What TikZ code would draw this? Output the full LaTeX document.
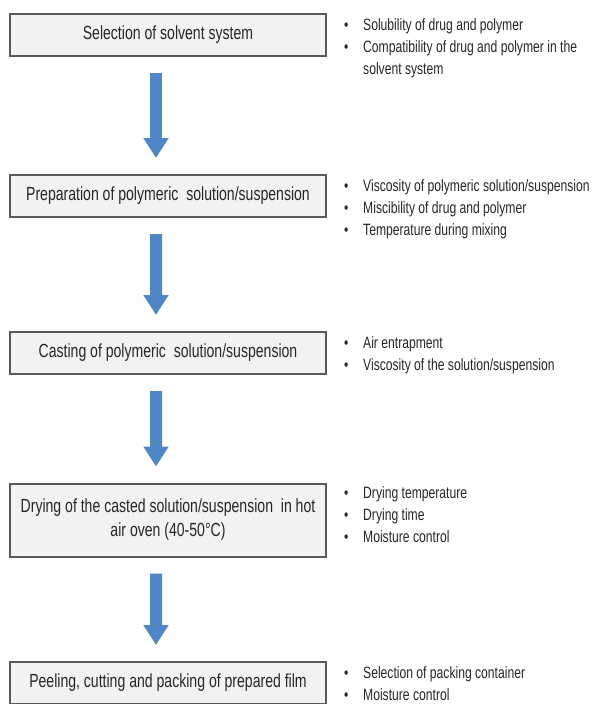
\documentclass[tikz,border=0pt]{standalone}
\usepackage{fontspec}
\setmainfont{Liberation Sans}[FakeStretch=0.74]
\usepackage{xcolor}
\usepackage{tikz}
\usetikzlibrary{arrows.meta}
\definecolor{arrowblue}{HTML}{4F86C6}
\definecolor{boxgray}{HTML}{F2F2F2}
\definecolor{edgegray}{HTML}{595959}
\newcommand{\itm}{\makebox[19pt][l]{\textbullet}}
\newcommand{\noitm}{\makebox[19pt][l]{}}

\begin{document}
\begin{tikzpicture}[x=1pt,y=1pt,
    stage/.style={draw=edgegray, line width=2pt, fill=boxgray, minimum width=316pt, minimum height=42pt,
        align=center, inner sep=2pt, text=black!85, font=\fontsize{19}{24}\selectfont},
    notes/.style={anchor=north west, align=left, inner sep=0pt, text=black!85, font=\fontsize{16.4}{22}\selectfont},
    edge from parent/.style={draw=arrowblue, line width=12pt, -{Triangle[width=24pt,length=20pt]}},
    edge from parent path={([xshift=-12pt,yshift=-16pt]\tikzparentnode.south) -- ([xshift=-12pt,yshift=16pt]\tikzchildnode.north)}]
\useasboundingbox (0,0) rectangle (596,-704);
\node[stage] (s1) at (168,-35) {Selection of solvent system} [level distance=161pt]
    child {node[stage] (s2) {Preparation of polymeric\ \ solution/suspension} [level distance=157pt]
        child {node[stage] (s3) {Casting of polymeric\ \ solution/suspension} [level distance=167pt]
            child {node[stage, minimum height=73pt] (s4) {Drying of the casted solution/suspension\ \ in hot\\ air oven (40-50°C)} [level distance=163pt]
                child {node[stage] (s5) {Peeling, cutting and packing of prepared film}}}}};
% factors beside each step
\node[notes] (n1) at ([xshift=17pt,yshift=-5pt]s1.north east) {\itm Solubility of drug and polymer\\ \itm Compatibility of drug and polymer in the\\ \noitm solvent system};
\node[notes] (n2) at ([xshift=17pt,yshift=-5pt]s2.north east) {\itm Viscosity of polymeric solution/suspension\\ \itm Miscibility of drug and polymer\\ \itm Temperature during mixing};
\node[notes] (n3) at ([xshift=17pt,yshift=-5pt]s3.north east) {\itm Air entrapment\\ \itm Viscosity of the solution/suspension};
\node[notes] (n4) at ([xshift=17pt,yshift=-4pt]s4.north east) {\itm Drying temperature\\ \itm Drying time\\ \itm Moisture control};
\node[notes] (n5) at ([xshift=17pt,yshift=-5pt]s5.north east) {\itm Selection of packing container\\ \itm Moisture control};
\end{tikzpicture}
\end{document}
